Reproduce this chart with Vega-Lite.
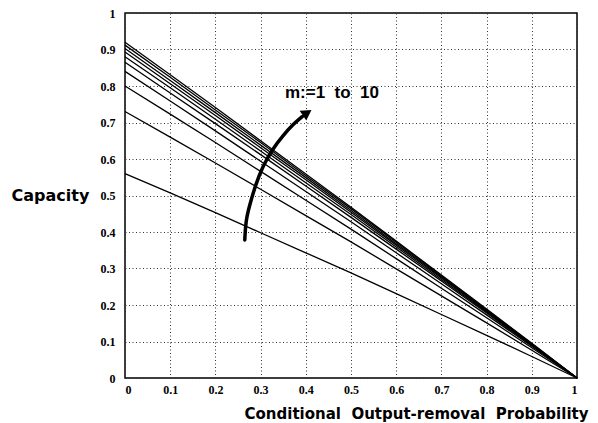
{
  "$schema": "https://vega.github.io/schema/vega-lite/v6.json",
  "autosize": "none",
  "padding": {"left": 125, "top": 13, "right": 21, "bottom": 45},
  "width": 452,
  "height": 365,
  "background": "white",
  "config": {
    "view": {"stroke": "#000", "strokeWidth": 1.5},
    "axis": {
      "grid": true,
      "gridDash": [1, 2.5],
      "gridColor": "#333",
      "gridWidth": 1,
      "ticks": false,
      "domain": false,
      "labelOverlap": false,
      "labelFont": "Liberation Serif",
      "labelFontWeight": "bold",
      "labelFontSize": 12,
      "labelColor": "#000",
      "titleFont": "DejaVu Sans",
      "titleFontWeight": "bold",
      "titleFontSize": 15,
      "titleColor": "#000"
    }
  },
  "datasets": {
    "curves": [
      {"m": 1, "p": 0, "c": 0.56}, {"m": 1, "p": 0.1, "c": 0.507}, {"m": 1, "p": 0.2, "c": 0.453}, {"m": 1, "p": 0.3, "c": 0.398}, {"m": 1, "p": 0.4, "c": 0.343}, {"m": 1, "p": 0.5, "c": 0.288}, {"m": 1, "p": 0.6, "c": 0.231}, {"m": 1, "p": 0.7, "c": 0.174}, {"m": 1, "p": 0.8, "c": 0.117}, {"m": 1, "p": 0.9, "c": 0.059}, {"m": 1, "p": 1, "c": 0},
      {"m": 2, "p": 0, "c": 0.73}, {"m": 2, "p": 0.1, "c": 0.66}, {"m": 2, "p": 0.2, "c": 0.589}, {"m": 2, "p": 0.3, "c": 0.517}, {"m": 2, "p": 0.4, "c": 0.445}, {"m": 2, "p": 0.5, "c": 0.373}, {"m": 2, "p": 0.6, "c": 0.299}, {"m": 2, "p": 0.7, "c": 0.225}, {"m": 2, "p": 0.8, "c": 0.151}, {"m": 2, "p": 0.9, "c": 0.076}, {"m": 2, "p": 1, "c": 0},
      {"m": 3, "p": 0, "c": 0.80}, {"m": 3, "p": 0.1, "c": 0.723}, {"m": 3, "p": 0.2, "c": 0.645}, {"m": 3, "p": 0.3, "c": 0.566}, {"m": 3, "p": 0.4, "c": 0.487}, {"m": 3, "p": 0.5, "c": 0.408}, {"m": 3, "p": 0.6, "c": 0.327}, {"m": 3, "p": 0.7, "c": 0.246}, {"m": 3, "p": 0.8, "c": 0.165}, {"m": 3, "p": 0.9, "c": 0.083}, {"m": 3, "p": 1, "c": 0},
      {"m": 4, "p": 0, "c": 0.84}, {"m": 4, "p": 0.1, "c": 0.759}, {"m": 4, "p": 0.2, "c": 0.677}, {"m": 4, "p": 0.3, "c": 0.594}, {"m": 4, "p": 0.4, "c": 0.511}, {"m": 4, "p": 0.5, "c": 0.428}, {"m": 4, "p": 0.6, "c": 0.343}, {"m": 4, "p": 0.7, "c": 0.258}, {"m": 4, "p": 0.8, "c": 0.173}, {"m": 4, "p": 0.9, "c": 0.087}, {"m": 4, "p": 1, "c": 0},
      {"m": 5, "p": 0, "c": 0.865}, {"m": 5, "p": 0.1, "c": 0.781}, {"m": 5, "p": 0.2, "c": 0.697}, {"m": 5, "p": 0.3, "c": 0.612}, {"m": 5, "p": 0.4, "c": 0.526}, {"m": 5, "p": 0.5, "c": 0.44}, {"m": 5, "p": 0.6, "c": 0.353}, {"m": 5, "p": 0.7, "c": 0.266}, {"m": 5, "p": 0.8, "c": 0.178}, {"m": 5, "p": 0.9, "c": 0.089}, {"m": 5, "p": 1, "c": 0},
      {"m": 6, "p": 0, "c": 0.88}, {"m": 6, "p": 0.1, "c": 0.795}, {"m": 6, "p": 0.2, "c": 0.709}, {"m": 6, "p": 0.3, "c": 0.622}, {"m": 6, "p": 0.4, "c": 0.535}, {"m": 6, "p": 0.5, "c": 0.448}, {"m": 6, "p": 0.6, "c": 0.359}, {"m": 6, "p": 0.7, "c": 0.27}, {"m": 6, "p": 0.8, "c": 0.181}, {"m": 6, "p": 0.9, "c": 0.091}, {"m": 6, "p": 1, "c": 0},
      {"m": 7, "p": 0, "c": 0.893}, {"m": 7, "p": 0.1, "c": 0.806}, {"m": 7, "p": 0.2, "c": 0.719}, {"m": 7, "p": 0.3, "c": 0.631}, {"m": 7, "p": 0.4, "c": 0.543}, {"m": 7, "p": 0.5, "c": 0.454}, {"m": 7, "p": 0.6, "c": 0.364}, {"m": 7, "p": 0.7, "c": 0.274}, {"m": 7, "p": 0.8, "c": 0.183}, {"m": 7, "p": 0.9, "c": 0.092}, {"m": 7, "p": 1, "c": 0},
      {"m": 8, "p": 0, "c": 0.903}, {"m": 8, "p": 0.1, "c": 0.815}, {"m": 8, "p": 0.2, "c": 0.727}, {"m": 8, "p": 0.3, "c": 0.638}, {"m": 8, "p": 0.4, "c": 0.549}, {"m": 8, "p": 0.5, "c": 0.459}, {"m": 8, "p": 0.6, "c": 0.368}, {"m": 8, "p": 0.7, "c": 0.277}, {"m": 8, "p": 0.8, "c": 0.185}, {"m": 8, "p": 0.9, "c": 0.093}, {"m": 8, "p": 1, "c": 0},
      {"m": 9, "p": 0, "c": 0.912}, {"m": 9, "p": 0.1, "c": 0.824}, {"m": 9, "p": 0.2, "c": 0.734}, {"m": 9, "p": 0.3, "c": 0.645}, {"m": 9, "p": 0.4, "c": 0.554}, {"m": 9, "p": 0.5, "c": 0.464}, {"m": 9, "p": 0.6, "c": 0.372}, {"m": 9, "p": 0.7, "c": 0.28}, {"m": 9, "p": 0.8, "c": 0.187}, {"m": 9, "p": 0.9, "c": 0.094}, {"m": 9, "p": 1, "c": 0},
      {"m": 10, "p": 0, "c": 0.92}, {"m": 10, "p": 0.1, "c": 0.831}, {"m": 10, "p": 0.2, "c": 0.741}, {"m": 10, "p": 0.3, "c": 0.65}, {"m": 10, "p": 0.4, "c": 0.559}, {"m": 10, "p": 0.5, "c": 0.468}, {"m": 10, "p": 0.6, "c": 0.375}, {"m": 10, "p": 0.7, "c": 0.282}, {"m": 10, "p": 0.8, "c": 0.189}, {"m": 10, "p": 0.9, "c": 0.095}, {"m": 10, "p": 1, "c": 0}
    ],
    "arrow": [
      {"p": 0.265, "c": 0.378},
      {"p": 0.267, "c": 0.43},
      {"p": 0.276, "c": 0.475},
      {"p": 0.289, "c": 0.53},
      {"p": 0.305, "c": 0.58},
      {"p": 0.325, "c": 0.625},
      {"p": 0.35, "c": 0.665},
      {"p": 0.372, "c": 0.695},
      {"p": 0.392, "c": 0.716}
    ],
    "head": [{"p": 0.4, "c": 0.724}],
    "label": [{"p": 0.354, "c": 0.78, "t": "m:=1\u00a0\u00a0to\u00a0\u00a010"}]
  },
  "encoding": {
    "x": {"field": "p", "type": "quantitative", "scale": {"domain": [0, 1], "nice": false},
          "axis": {"values": [0, 0.1, 0.2, 0.3, 0.4, 0.5, 0.6, 0.7, 0.8, 0.9, 1], "format": "~g", "labelPadding": 6,
                   "title": "Conditional\u00a0\u00a0Output-removal\u00a0\u00a0Probability", "titleX": 291, "titleY": 35, "titleAnchor": "middle", "titleAlign": "center", "titleBaseline": "middle"}},
    "y": {"field": "c", "type": "quantitative", "scale": {"domain": [0, 1], "nice": false},
          "axis": {"values": [0, 0.1, 0.2, 0.3, 0.4, 0.5, 0.6, 0.7, 0.8, 0.9, 1], "format": "~g", "labelPadding": 10,
                   "title": "Capacity", "titleFontSize": 16, "titleAngle": 0, "titleX": -75, "titleY": 182, "titleAlign": "center", "titleBaseline": "middle"}}
  },
  "layer": [
    {
      "data": {"name": "curves"},
      "mark": {"type": "line", "color": "#000", "strokeWidth": 1.3},
      "encoding": {
        "detail": {"field": "m", "type": "ordinal"}
      }
    },
    {
      "data": {"name": "arrow"},
      "mark": {"type": "line", "color": "#000", "strokeWidth": 3.5, "interpolate": "basis", "strokeCap": "round"},
      "encoding": {}
    },
    {
      "data": {"name": "head"},
      "mark": {"type": "point", "shape": "triangle", "filled": true, "color": "#000", "size": 140, "angle": 56, "opacity": 1},
      "encoding": {}
    },
    {
      "data": {"name": "label"},
      "mark": {"type": "text", "font": "Liberation Sans", "fontWeight": "bold", "fontSize": 17, "align": "left", "baseline": "middle", "color": "#000"},
      "encoding": {
        "text": {"field": "t"}
      }
    }
  ]
}
